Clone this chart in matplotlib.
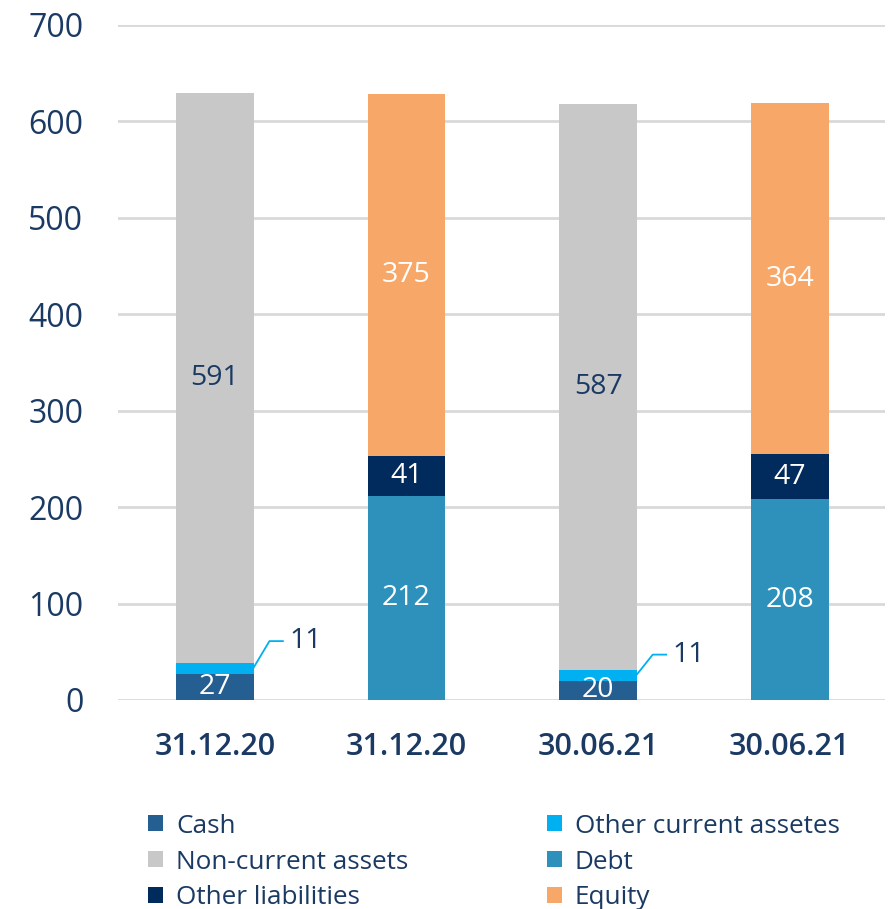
import numpy as np
import matplotlib; matplotlib.use('agg')
import matplotlib.pyplot as plt
from matplotlib.patches import Patch

# data
dates = ["31.12.20", "31.12.20", "30.06.21", "30.06.21"]
cash = [27, 0, 20, 0]
other_current = [11, 0, 11, 0]
non_current = [591, 0, 587, 0]
debt = [0, 212, 0, 208]
other_liab = [0, 41, 0, 47]
equity = [0, 375, 0, 364]

series_names = ["Cash", "Other current assetes", "Non-current assets",
                "Debt", "Other liabilities", "Equity"]
colors = ["#255E91", "#00B0F0", "#C8C8C8", "#2E91BC", "#002B5C", "#F7A868"]
txt_dark = "#1B3A63"

plt.rcParams['font.family'] = ['Open Sans', 'DejaVu Sans']

fig = plt.figure(figsize=(8.9, 9.09), dpi=100)
ax = fig.add_axes([0.1326, 0.23, 0.8614, 0.7425])

x = np.arange(len(dates))
w = 0.405
stack = [cash, other_current, non_current, debt, other_liab, equity]
bottom = np.zeros(len(dates))
for vals, col in zip(stack, colors):
    vals = np.array(vals, dtype=float)
    ax.bar(x, vals, w, bottom=bottom, color=col, zorder=3)
    bottom += vals

# inside labels
def inlabel(i, base, val, color):
    ax.text(x[i], base + val / 2, str(val), ha='center', va='center',
            fontsize=20.5, color=color, zorder=4)

for i in [0, 2]:
    inlabel(i, 0, cash[i], "white")
    inlabel(i, cash[i] + other_current[i], non_current[i], txt_dark)
for i in [1, 3]:
    inlabel(i, 0, debt[i], "white")
    inlabel(i, debt[i], other_liab[i], "white")
    inlabel(i, debt[i] + other_liab[i], equity[i], "white")

# small segment labels with leader lines
for i, ty in [(0, 61), (2, 47)]:
    y0 = cash[i] + other_current[i] / 2 + 1
    ax.plot([x[i] + w / 2, x[i] + 0.285, x[i] + 0.355], [y0, ty, ty],
            color="#00B0F0", lw=1.3, zorder=4, clip_on=False)
    ax.text(x[i] + 0.39, ty, str(other_current[i]), ha='left', va='center',
            fontsize=20.5, color=txt_dark)

ax.set_xlim(-0.505, 3.495)
ax.set_ylim(0, 700)
ax.set_yticks(np.arange(0, 701, 100))
ax.yaxis.grid(True, color="#D9D9D9", lw=2, zorder=0)
ax.set_axisbelow(True)
for s in ax.spines.values():
    s.set_visible(False)
ax.tick_params(axis='y', length=0, pad=25, labelsize=23, labelcolor=txt_dark)
ax.tick_params(axis='x', length=0, pad=23, labelsize=22, labelcolor=txt_dark)
ax.set_xticks(x)
ax.set_xticklabels(dates, fontweight='semibold')

handles = [Patch(facecolor=c) for c in colors]
order = [0, 2, 4, 1, 3, 5]
fig.legend([handles[k] for k in order], [series_names[k] for k in order],
           ncol=2, loc='lower left', bbox_to_anchor=(0.152, -0.016),
           frameon=False, fontsize=18.8, labelcolor=txt_dark,
           handlelength=0.57, handleheight=0.57, handletextpad=0.5,
           columnspacing=5.3, labelspacing=0.42, borderpad=0)

fig.savefig("out.png", dpi=100)
